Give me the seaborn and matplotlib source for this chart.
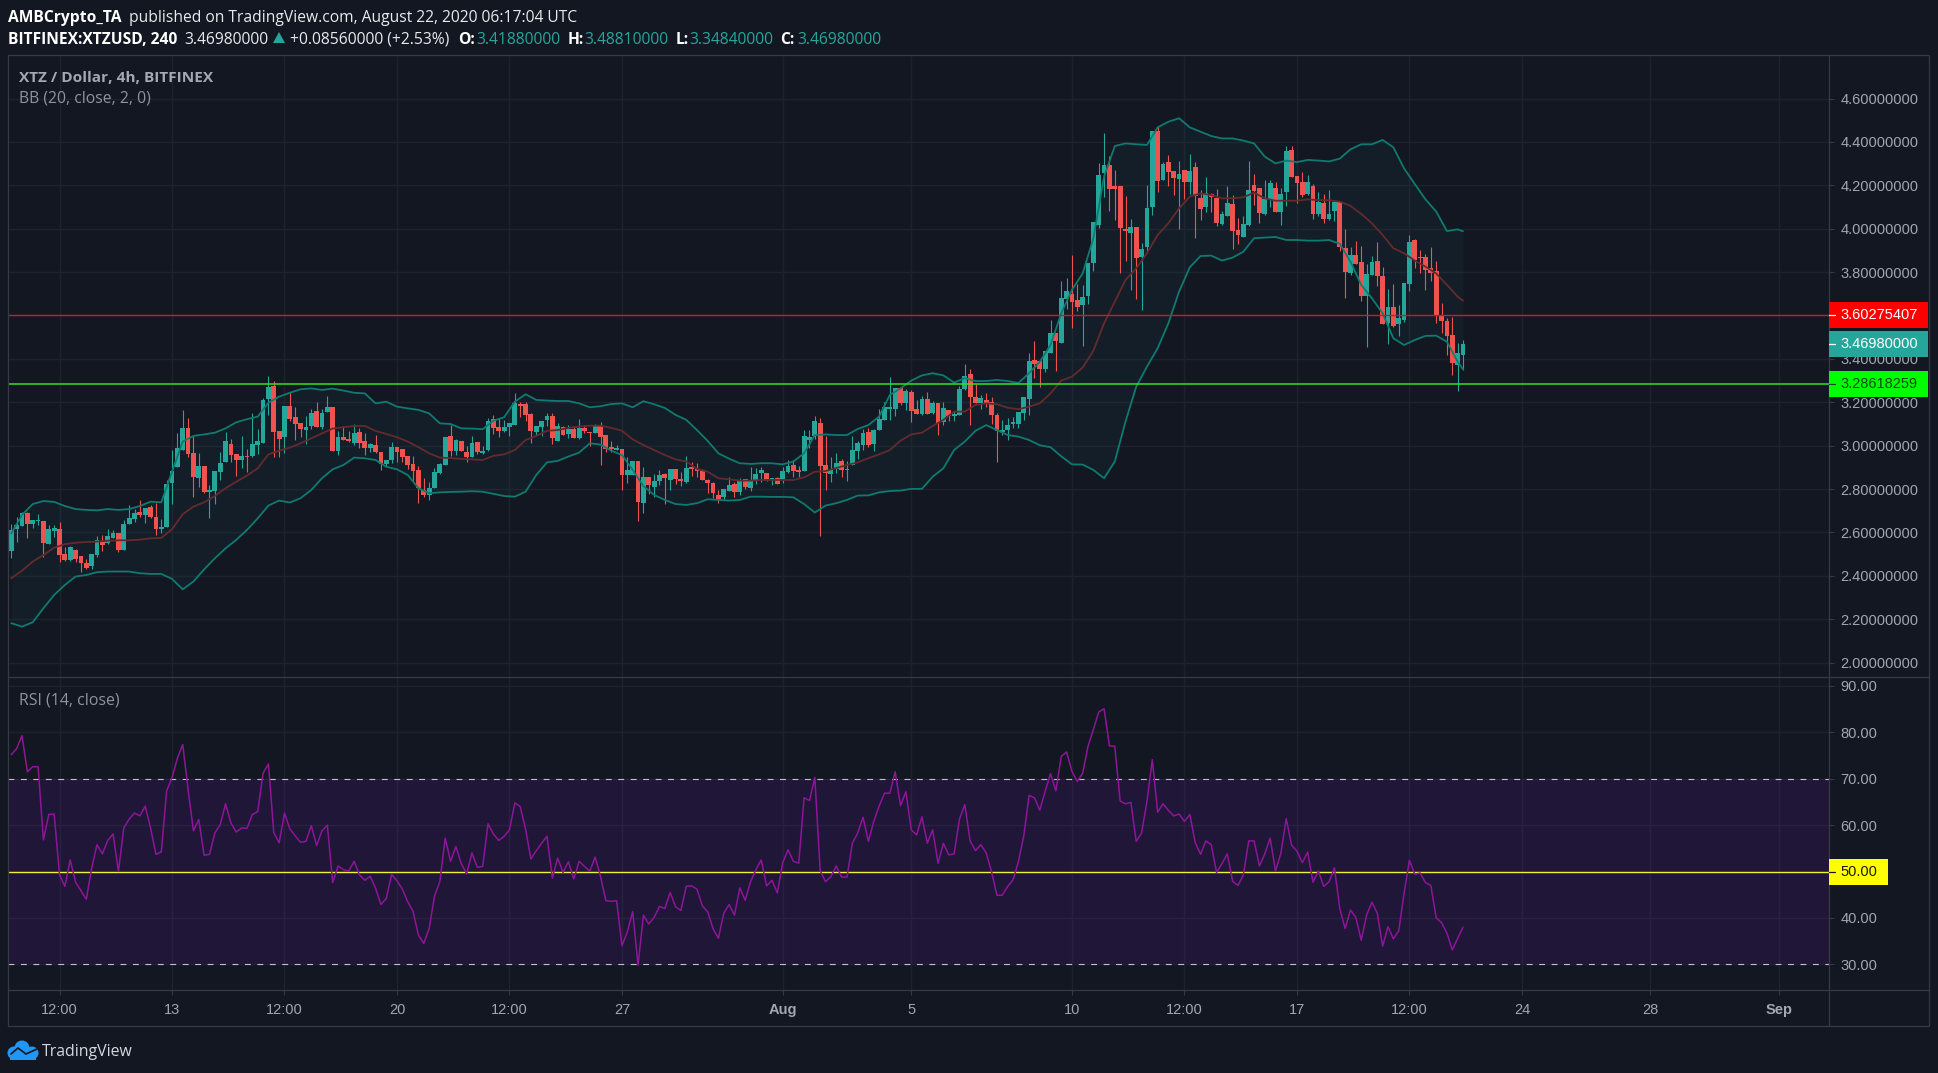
"""XTZ/USD 4h candles with Bollinger bands and RSI, TradingView dark layout."""

import matplotlib
matplotlib.use("Agg")
import matplotlib.pyplot as plt
from matplotlib.patches import Circle, Polygon, Rectangle
import numpy as np
import pandas as pd
import seaborn as sns

# ---------------------------------------------------------------------------
# Data
# ---------------------------------------------------------------------------

opens = [
    2.516, 2.616, 2.632, 2.690, 2.640, 2.653, 2.653, 2.547, 2.607, 2.616,
    2.501, 2.473, 2.520, 2.493, 2.460, 2.446, 2.496, 2.558, 2.552, 2.575,
    2.598, 2.520, 2.640, 2.662, 2.695, 2.681, 2.718, 2.672, 2.616, 2.625,
    2.828, 2.902, 2.980, 3.082, 2.966, 2.851, 2.906, 2.787, 2.791, 2.879,
    2.925, 3.008, 2.962, 2.934, 2.953, 2.953, 3.003, 3.013, 3.215, 3.275,
    3.068, 3.040, 3.183, 3.132, 3.105, 3.072, 3.091, 3.160, 3.086, 3.155,
    3.178, 2.976, 3.040, 3.031, 3.013, 3.063, 3.022, 2.990, 3.003, 2.971,
    2.916, 2.934, 2.994, 2.985, 2.953, 2.916, 2.888, 2.796, 2.773, 2.805,
    2.874, 2.911, 3.045, 2.976, 3.022, 2.971, 2.948, 3.017, 2.966, 2.980,
    3.123, 3.086, 3.068, 3.086, 3.095, 3.192, 3.192, 3.146, 3.063, 3.086,
    3.119, 3.137, 3.022, 3.086, 3.054, 3.077, 3.036, 3.082, 3.063, 3.059,
    3.091, 3.049, 2.994, 2.980, 2.985, 2.865, 2.865, 2.930, 2.736, 2.856,
    2.810, 2.837, 2.870, 2.842, 2.893, 2.847, 2.833, 2.902, 2.893, 2.888,
    2.842, 2.828, 2.773, 2.764, 2.791, 2.824, 2.787, 2.847, 2.805, 2.842,
    2.874, 2.874, 2.842, 2.851, 2.842, 2.879, 2.911, 2.888, 2.883, 3.026,
    3.045, 3.105, 2.911, 2.870, 2.893, 2.930, 2.890, 2.911, 2.976, 3.003,
    3.063, 3.008, 3.072, 3.119, 3.169, 3.169, 3.266, 3.197, 3.248, 3.169,
    3.146, 3.215, 3.151, 3.197, 3.109, 3.165, 3.137, 3.142, 3.261, 3.330,
    3.225, 3.197, 3.211, 3.201, 3.142, 3.063, 3.072, 3.100, 3.100, 3.151,
    3.215, 3.395, 3.390, 3.354, 3.427, 3.519, 3.473, 3.676, 3.699, 3.671,
    3.648, 3.690, 3.842, 4.017, 4.257, 4.294, 4.197, 4.197, 3.999, 3.980,
    4.008, 3.870, 3.916, 4.100, 4.450, 4.224, 4.307, 4.266, 4.229, 4.270,
    4.215, 4.284, 4.141, 4.100, 4.160, 4.141, 4.022, 4.058, 4.114, 3.994,
    3.962, 4.017, 4.201, 4.188, 4.068, 4.132, 4.188, 4.077, 4.169, 4.363,
    4.243, 4.215, 4.160, 4.197, 4.068, 4.118, 4.045, 4.082, 4.123, 3.911,
    3.796, 3.879, 3.847, 3.690, 3.787, 3.851, 3.782, 3.565, 3.639, 3.561,
    3.579, 3.745, 3.948, 3.870, 3.870, 3.819, 3.805, 3.598, 3.575, 3.510,
    3.372, 3.4188,
]
highs = [
    2.640, 2.670, 2.696, 2.693, 2.658, 2.685, 2.655, 2.635, 2.635, 2.647,
    2.532, 2.538, 2.523, 2.493, 2.476, 2.501, 2.584, 2.589, 2.616, 2.612,
    2.598, 2.658, 2.727, 2.708, 2.750, 2.713, 2.727, 2.736, 2.662, 2.842,
    2.980, 3.059, 3.165, 3.128, 3.045, 2.966, 2.906, 2.819, 2.883, 2.971,
    3.063, 3.031, 2.962, 3.045, 2.985, 3.151, 3.077, 3.220, 3.321, 3.298,
    3.068, 3.183, 3.243, 3.178, 3.105, 3.137, 3.169, 3.201, 3.169, 3.229,
    3.178, 3.068, 3.091, 3.068, 3.100, 3.082, 3.059, 3.013, 3.049, 2.971,
    2.934, 3.017, 2.994, 2.985, 2.953, 2.953, 2.906, 2.851, 2.833, 2.897,
    2.920, 3.040, 3.095, 3.031, 3.022, 2.999, 3.045, 3.017, 2.999, 3.128,
    3.142, 3.128, 3.119, 3.105, 3.243, 3.201, 3.201, 3.151, 3.091, 3.114,
    3.151, 3.151, 3.105, 3.091, 3.095, 3.091, 3.123, 3.095, 3.063, 3.100,
    3.109, 3.049, 3.022, 3.003, 2.985, 2.948, 2.930, 2.930, 2.902, 2.856,
    2.870, 2.888, 2.874, 2.893, 2.893, 2.879, 2.953, 2.925, 2.920, 2.893,
    2.847, 2.833, 2.796, 2.801, 2.856, 2.833, 2.851, 2.847, 2.902, 2.897,
    2.902, 2.874, 2.851, 2.856, 2.902, 2.934, 2.934, 2.906, 3.072, 3.072,
    3.137, 3.128, 3.045, 2.948, 2.966, 2.939, 2.930, 3.045, 3.022, 3.077,
    3.082, 3.077, 3.169, 3.201, 3.317, 3.266, 3.271, 3.261, 3.257, 3.211,
    3.229, 3.248, 3.206, 3.197, 3.201, 3.165, 3.160, 3.275, 3.377, 3.354,
    3.284, 3.234, 3.243, 3.225, 3.151, 3.119, 3.128, 3.132, 3.155, 3.225,
    3.427, 3.483, 3.390, 3.436, 3.579, 3.519, 3.759, 3.773, 3.879, 3.745,
    3.741, 3.842, 4.031, 4.303, 4.441, 4.335, 4.270, 4.197, 4.151, 4.045,
    4.008, 3.934, 4.201, 4.450, 4.473, 4.307, 4.340, 4.266, 4.312, 4.270,
    4.344, 4.307, 4.178, 4.238, 4.165, 4.183, 4.082, 4.197, 4.155, 4.049,
    4.058, 4.312, 4.252, 4.188, 4.224, 4.224, 4.215, 4.188, 4.381, 4.381,
    4.243, 4.261, 4.247, 4.206, 4.169, 4.160, 4.178, 4.132, 4.123, 3.999,
    3.916, 3.943, 3.920, 3.837, 3.874, 3.939, 3.824, 3.722, 3.745, 3.648,
    3.750, 3.971, 3.953, 3.902, 3.883, 3.916, 3.851, 3.658, 3.589, 3.593,
    3.473, 3.4881,
]
lows = [
    2.483, 2.558, 2.632, 2.576, 2.622, 2.635, 2.489, 2.547, 2.581, 2.466,
    2.470, 2.470, 2.464, 2.418, 2.434, 2.432, 2.489, 2.515, 2.547, 2.575,
    2.510, 2.520, 2.640, 2.647, 2.672, 2.644, 2.667, 2.589, 2.598, 2.625,
    2.731, 2.902, 2.980, 2.948, 2.764, 2.810, 2.782, 2.667, 2.731, 2.842,
    2.925, 2.925, 2.860, 2.897, 2.879, 2.948, 2.962, 3.013, 3.142, 2.948,
    2.948, 2.966, 3.114, 3.026, 3.040, 3.008, 3.077, 3.086, 3.077, 3.155,
    2.976, 2.957, 3.026, 3.017, 3.003, 2.990, 2.957, 2.971, 2.966, 2.888,
    2.902, 2.920, 2.925, 2.925, 2.893, 2.837, 2.736, 2.764, 2.750, 2.805,
    2.870, 2.911, 2.953, 2.957, 2.976, 2.925, 2.948, 2.962, 2.962, 2.976,
    3.054, 3.040, 3.063, 3.045, 3.095, 3.132, 3.114, 3.013, 3.049, 3.045,
    3.091, 3.008, 3.022, 3.049, 3.036, 3.036, 3.031, 3.059, 2.999, 3.059,
    2.911, 2.971, 2.971, 2.980, 2.796, 2.828, 2.865, 2.653, 2.690, 2.778,
    2.764, 2.819, 2.731, 2.796, 2.824, 2.814, 2.828, 2.860, 2.856, 2.842,
    2.782, 2.759, 2.736, 2.750, 2.791, 2.764, 2.773, 2.801, 2.791, 2.824,
    2.833, 2.837, 2.819, 2.824, 2.828, 2.874, 2.856, 2.856, 2.883, 2.990,
    3.031, 2.584, 2.796, 2.833, 2.874, 2.856, 2.837, 2.911, 2.939, 2.980,
    2.994, 2.976, 3.072, 3.119, 3.119, 3.137, 3.188, 3.165, 3.109, 3.146,
    3.142, 3.146, 3.146, 3.049, 3.095, 3.114, 3.114, 3.142, 3.257, 3.095,
    3.197, 3.169, 3.178, 3.100, 2.925, 3.049, 3.026, 3.082, 3.082, 3.119,
    3.142, 3.312, 3.271, 3.340, 3.427, 3.344, 3.473, 3.630, 3.542, 3.621,
    3.460, 3.653, 3.805, 4.003, 4.146, 4.082, 4.040, 3.796, 3.851, 3.718,
    3.676, 3.625, 3.897, 4.063, 4.169, 4.224, 4.197, 4.155, 3.999, 4.137,
    4.160, 3.957, 4.040, 4.077, 4.077, 4.012, 4.017, 4.058, 3.906, 3.930,
    3.962, 4.012, 4.109, 4.026, 4.063, 4.100, 4.077, 4.017, 4.105, 4.238,
    4.118, 4.146, 4.155, 4.045, 4.058, 4.026, 4.040, 4.035, 3.897, 3.681,
    3.787, 3.837, 3.667, 3.455, 3.787, 3.736, 3.561, 3.469, 3.547, 3.506,
    3.570, 3.713, 3.819, 3.796, 3.718, 3.759, 3.565, 3.519, 3.418, 3.326,
    3.252, 3.3484,
]
closes = [
    2.612, 2.635, 2.690, 2.641, 2.658, 2.656, 2.552, 2.616, 2.621, 2.496,
    2.473, 2.533, 2.478, 2.460, 2.437, 2.501, 2.564, 2.542, 2.584, 2.598,
    2.520, 2.640, 2.667, 2.690, 2.681, 2.713, 2.672, 2.616, 2.625, 2.824,
    2.883, 2.990, 3.082, 2.962, 2.856, 2.906, 2.787, 2.796, 2.883, 2.920,
    3.022, 2.957, 2.934, 2.953, 2.948, 3.008, 3.022, 3.211, 3.271, 3.063,
    3.031, 3.183, 3.123, 3.100, 3.077, 3.086, 3.151, 3.086, 3.151, 3.178,
    2.976, 3.040, 3.026, 3.022, 3.059, 3.013, 2.990, 3.008, 2.971, 2.916,
    2.934, 2.994, 2.971, 2.948, 2.911, 2.883, 2.805, 2.773, 2.805, 2.879,
    2.916, 3.040, 2.976, 3.026, 2.976, 2.948, 3.013, 2.971, 2.976, 3.114,
    3.082, 3.068, 3.086, 3.105, 3.197, 3.183, 3.142, 3.068, 3.091, 3.114,
    3.137, 3.036, 3.091, 3.049, 3.077, 3.036, 3.082, 3.068, 3.060, 3.091,
    3.040, 2.985, 2.985, 2.990, 2.865, 2.888, 2.930, 2.741, 2.856, 2.819,
    2.837, 2.865, 2.851, 2.893, 2.847, 2.837, 2.897, 2.893, 2.883, 2.842,
    2.828, 2.782, 2.755, 2.801, 2.819, 2.787, 2.842, 2.810, 2.842, 2.870,
    2.888, 2.842, 2.851, 2.824, 2.883, 2.906, 2.883, 2.879, 3.045, 3.040,
    3.114, 2.906, 2.874, 2.888, 2.920, 2.888, 2.893, 2.980, 3.013, 3.059,
    3.003, 3.072, 3.123, 3.178, 3.178, 3.266, 3.195, 3.252, 3.160, 3.146,
    3.215, 3.146, 3.197, 3.105, 3.174, 3.137, 3.146, 3.261, 3.321, 3.225,
    3.197, 3.220, 3.197, 3.142, 3.068, 3.072, 3.095, 3.109, 3.155, 3.225,
    3.390, 3.377, 3.354, 3.436, 3.519, 3.483, 3.681, 3.713, 3.662, 3.639,
    3.685, 3.842, 4.031, 4.247, 4.294, 4.183, 4.183, 4.003, 3.989, 4.008,
    3.865, 3.906, 4.095, 4.450, 4.220, 4.298, 4.261, 4.234, 4.252, 4.215,
    4.266, 4.151, 4.091, 4.165, 4.146, 4.026, 4.068, 4.118, 3.989, 3.971,
    4.022, 4.178, 4.174, 4.072, 4.137, 4.211, 4.077, 4.160, 4.358, 4.238,
    4.211, 4.155, 4.215, 4.068, 4.123, 4.045, 4.068, 4.123, 3.916, 3.800,
    3.879, 3.837, 3.690, 3.791, 3.847, 3.782, 3.561, 3.639, 3.552, 3.589,
    3.750, 3.939, 3.856, 3.867, 3.810, 3.796, 3.602, 3.575, 3.506, 3.381,
    3.427, 3.4698,
]

# bands read at every 2nd candle, plus the last one
bb_bars = list(range(0, 271, 2)) + [271]
bb_upper = [
    2.596, 2.681, 2.731, 2.745, 2.741, 2.722, 2.708, 2.704, 2.702, 2.708,
    2.704, 2.708, 2.722, 2.742, 2.739, 2.880, 3.019, 3.045, 3.052, 3.060,
    3.080, 3.108, 3.122, 3.134, 3.198, 3.226, 3.244, 3.260, 3.264, 3.257,
    3.263, 3.254, 3.244, 3.241, 3.195, 3.203, 3.180, 3.172, 3.165, 3.149,
    3.103, 3.100, 3.080, 3.079, 3.076, 3.115, 3.131, 3.203, 3.237, 3.211,
    3.208, 3.206, 3.206, 3.195, 3.177, 3.182, 3.192, 3.195, 3.177, 3.205,
    3.191, 3.174, 3.142, 3.119, 3.072, 3.022, 2.965, 2.940, 2.919, 2.916,
    2.919, 2.919, 2.914, 2.927, 2.965, 3.049, 3.052, 3.049, 3.049, 3.077,
    3.095, 3.134, 3.234, 3.264, 3.300, 3.324, 3.334, 3.324, 3.291, 3.311,
    3.298, 3.298, 3.303, 3.298, 3.289, 3.334, 3.387, 3.464, 3.610, 3.718,
    3.794, 3.956, 4.240, 4.381, 4.393, 4.389, 4.386, 4.467, 4.493, 4.509,
    4.467, 4.447, 4.427, 4.416, 4.416, 4.406, 4.393, 4.332, 4.301, 4.314,
    4.307, 4.317, 4.314, 4.310, 4.323, 4.366, 4.389, 4.389, 4.409, 4.375,
    4.278, 4.206, 4.135, 4.079, 3.989, 3.997, 3.988,
]
bb_mid = [
    2.389, 2.424, 2.466, 2.496, 2.530, 2.546, 2.553, 2.556, 2.558, 2.562,
    2.564, 2.564, 2.567, 2.573, 2.575, 2.615, 2.684, 2.719, 2.739, 2.768,
    2.804, 2.834, 2.862, 2.896, 2.960, 2.977, 2.991, 3.011, 3.034, 3.057,
    3.079, 3.085, 3.091, 3.091, 3.068, 3.054, 3.039, 3.019, 2.993, 2.965,
    2.945, 2.943, 2.939, 2.937, 2.934, 2.953, 2.960, 2.980, 3.026, 3.045,
    3.069, 3.072, 3.082, 3.088, 3.092, 3.092, 3.082, 3.069, 3.029, 3.003,
    2.980, 2.957, 2.937, 2.927, 2.893, 2.880, 2.850, 2.845, 2.839, 2.839,
    2.842, 2.842, 2.842, 2.842, 2.854, 2.880, 2.883, 2.897, 2.911, 2.923,
    2.942, 2.960, 2.980, 3.023, 3.052, 3.060, 3.091, 3.119, 3.157, 3.157,
    3.188, 3.195, 3.191, 3.175, 3.168, 3.180, 3.195, 3.241, 3.300, 3.318,
    3.360, 3.438, 3.564, 3.664, 3.764, 3.817, 3.887, 3.971, 4.025, 4.094,
    4.148, 4.163, 4.155, 4.140, 4.140, 4.145, 4.166, 4.140, 4.129, 4.129,
    4.129, 4.135, 4.132, 4.131, 4.125, 4.105, 4.068, 4.025, 3.971, 3.910,
    3.887, 3.853, 3.825, 3.794, 3.741, 3.687, 3.668,
]
bb_lower = [
    2.182, 2.166, 2.186, 2.251, 2.312, 2.358, 2.397, 2.404, 2.417, 2.420,
    2.420, 2.420, 2.412, 2.409, 2.409, 2.386, 2.338, 2.374, 2.430, 2.481,
    2.527, 2.566, 2.612, 2.665, 2.724, 2.747, 2.738, 2.758, 2.796, 2.850,
    2.891, 2.911, 2.945, 2.942, 2.934, 2.903, 2.891, 2.865, 2.804, 2.781,
    2.785, 2.787, 2.788, 2.790, 2.788, 2.778, 2.768, 2.765, 2.788, 2.865,
    2.923, 2.930, 2.950, 2.968, 3.011, 3.005, 2.977, 2.957, 2.888, 2.814,
    2.773, 2.750, 2.731, 2.727, 2.735, 2.753, 2.750, 2.747, 2.750, 2.765,
    2.765, 2.764, 2.764, 2.762, 2.731, 2.692, 2.724, 2.735, 2.750, 2.770,
    2.771, 2.785, 2.791, 2.793, 2.801, 2.801, 2.857, 2.896, 2.980, 3.019,
    3.069, 3.095, 3.072, 3.049, 3.042, 3.026, 3.002, 2.993, 2.951, 2.914,
    2.913, 2.888, 2.850, 2.927, 3.111, 3.272, 3.364, 3.449, 3.564, 3.710,
    3.822, 3.874, 3.876, 3.853, 3.867, 3.894, 3.956, 3.959, 3.962, 3.948,
    3.948, 3.945, 3.945, 3.948, 3.930, 3.848, 3.741, 3.679, 3.610, 3.495,
    3.464, 3.487, 3.506, 3.507, 3.479, 3.387, 3.352,
]

rsi = [
    75.2, 76.5, 79.3, 71.5, 72.6, 72.6, 56.8, 62.3, 62.4, 49.3,
    46.8, 52.5, 47.7, 45.9, 44.0, 50.7, 55.8, 53.8, 56.7, 58.1,
    50.0, 59.4, 61.3, 62.6, 62.0, 64.1, 59.4, 53.7, 54.2, 67.4,
    70.2, 74.4, 77.4, 67.7, 58.8, 61.2, 53.5, 53.7, 58.3, 60.1,
    64.6, 60.5, 58.5, 59.4, 59.3, 62.3, 62.9, 71.2, 73.2, 58.4,
    56.2, 62.6, 59.2, 57.7, 56.3, 56.5, 59.9, 55.6, 58.8, 60.0,
    47.6, 51.2, 50.4, 50.1, 52.2, 49.3, 48.1, 49.0, 46.4, 42.9,
    44.2, 49.4, 48.0, 46.2, 43.5, 41.4, 36.3, 34.5, 37.7, 44.7,
    47.8, 57.2, 52.2, 55.4, 51.7, 49.5, 54.0, 50.9, 51.1, 60.3,
    58.1, 56.7, 57.6, 59.0, 64.8, 64.0, 59.2, 52.7, 54.5, 56.1,
    57.6, 48.6, 52.9, 49.8, 52.1, 48.4, 52.2, 51.1, 50.1, 53.1,
    48.9, 43.7, 43.6, 43.7, 34.0, 37.0, 41.4, 29.8, 40.6, 38.7,
    40.1, 42.5, 42.0, 45.5, 42.4, 41.6, 46.8, 46.9, 46.2, 42.6,
    41.3, 37.7, 35.6, 41.0, 42.9, 40.6, 46.5, 43.8, 47.8, 50.4,
    52.5, 46.9, 48.1, 45.4, 51.9, 54.7, 52.2, 51.8, 65.9, 65.3,
    70.3, 50.2, 47.8, 48.9, 51.2, 48.8, 48.8, 56.1, 58.3, 61.7,
    56.5, 60.8, 64.1, 66.9, 66.9, 71.5, 64.2, 67.2, 59.0, 57.9,
    61.8, 56.1, 59.0, 51.8, 56.1, 53.6, 53.8, 61.3, 64.4, 56.6,
    54.5, 55.8, 54.0, 49.9, 44.9, 44.9, 46.8, 48.2, 52.1, 57.6,
    66.4, 65.9, 63.2, 67.3, 71.1, 67.4, 74.8, 75.8, 71.6, 69.4,
    71.2, 77.0, 80.6, 84.4, 85.1, 77.1, 77.0, 65.2, 64.6, 64.9,
    56.5, 58.3, 65.1, 74.1, 62.8, 64.6, 63.2, 62.0, 62.4, 60.8,
    62.3, 56.3, 53.7, 56.6, 55.8, 49.8, 51.7, 53.8, 47.9, 47.0,
    49.3, 56.6, 56.6, 51.2, 53.8, 57.2, 50.1, 53.9, 61.4, 55.7,
    54.4, 51.9, 54.2, 47.7, 50.1, 46.8, 47.8, 50.8, 42.0, 37.7,
    41.7, 40.1, 35.2, 40.6, 43.4, 41.0, 33.9, 38.1, 35.5, 37.2,
    45.3, 52.4, 49.4, 49.7, 47.6, 47.0, 40.0, 39.0, 36.7, 33.1,
    35.6, 38.0,
]

resistance = 3.60275407
support = 3.28618259
last_close = 3.46980000
price_ticks = [2.0, 2.2, 2.4, 2.6, 2.8, 3.0, 3.2, 3.4, 3.6, 3.8, 4.0, 4.2, 4.4, 4.6]
rsi_ticks = [30, 40, 50, 60, 70, 80, 90]
time_ticks = [
    ("2020-07-09 12:00", "12:00"), ("2020-07-13", "13"),
    ("2020-07-16 12:00", "12:00"), ("2020-07-20", "20"),
    ("2020-07-23 12:00", "12:00"), ("2020-07-27", "27"),
    ("2020-08-01", "Aug"), ("2020-08-05", "5"), ("2020-08-10", "10"),
    ("2020-08-13 12:00", "12:00"), ("2020-08-17", "17"),
    ("2020-08-20 12:00", "12:00"), ("2020-08-24", "24"),
    ("2020-08-28", "28"), ("2020-09-01", "Sep"),
]

# ---------------------------------------------------------------------------
# Style
# ---------------------------------------------------------------------------

BG = "#131722"
GRID = "#1e222d"
FRAME = "#363a45"
UP = "#26a69a"
DOWN = "#ef5350"
TICK_TEXT = "#a3a6af"
W, H = 1938, 1073
PANE_LEFT, PANE_RIGHT, OUTER_RIGHT = 8, 1829, 1929
PANE_TOP, PANE_SPLIT, PANE_BOTTOM, AXIS_BOTTOM = 55, 677, 990, 1026

sns.set_theme(style="dark", rc={"axes.facecolor": BG, "figure.facecolor": BG})
plt.rcParams["font.family"] = ["Liberation Sans", "DejaVu Sans"]

fig = plt.figure(figsize=(W / 100, H / 100), dpi=100)


def pane(top, bottom):
    return fig.add_axes([
        PANE_LEFT / W, 1 - bottom / H,
        (PANE_RIGHT - PANE_LEFT) / W, (bottom - top) / H,
    ])


ax = pane(PANE_TOP, PANE_SPLIT)
ax_rsi = pane(PANE_SPLIT, PANE_BOTTOM)

# ---------------------------------------------------------------------------
# Candles and bands
# ---------------------------------------------------------------------------

candles = pd.DataFrame({"open": opens, "high": highs, "low": lows, "close": closes, "rsi": rsi})
candles["time"] = pd.date_range("2020-07-08", periods=len(candles), freq="4h")
colors = np.where(candles["close"] >= candles["open"], UP, DOWN)

bands = pd.DataFrame({"upper": bb_upper, "mid": bb_mid, "lower": bb_lower})
bands["time"] = candles["time"].iloc[bb_bars].values

ax.fill_between(bands["time"], bands["lower"], bands["upper"], color=UP, alpha=0.05, lw=0, zorder=1)
ax.vlines(candles["time"], candles["low"], candles["high"], colors=colors, lw=0.8, zorder=1.5)
ax.bar(
    candles["time"],
    (candles["close"] - candles["open"]).abs().clip(lower=0.002),
    bottom=candles[["open", "close"]].min(axis=1),
    width=3.6 / 24,
    color=colors,
    linewidth=0,
    zorder=1.6,
)
sns.lineplot(data=bands, x="time", y="upper", ax=ax, color="#0f7a70", lw=1.3, zorder=3)
sns.lineplot(data=bands, x="time", y="lower", ax=ax, color="#0f7a70", lw=1.3, zorder=3)
sns.lineplot(data=bands, x="time", y="mid", ax=ax, color="#652a2c", lw=1.3, zorder=3)
ax.axhline(resistance, color="#c41f1f", lw=1.0, zorder=4)
ax.axhline(support, color="#35e01f", lw=1.1, zorder=4)

# ---------------------------------------------------------------------------
# RSI
# ---------------------------------------------------------------------------

ax_rsi.axhspan(30, 70, color="#9915ff", alpha=0.1, lw=0, zorder=1)
ax_rsi.axhline(70, color="#c5c1cc", lw=0.8, ls=(0, (5.3, 5.9)), zorder=2)
ax_rsi.axhline(30, color="#c5c1cc", lw=0.8, ls=(0, (5.3, 5.9)), zorder=2)
ax_rsi.axhline(50, color="#f0f03c", lw=1.0, zorder=2)
sns.lineplot(data=candles, x="time", y="rsi", ax=ax_rsi, color="#8e1599", lw=1.1, zorder=3)

# ---------------------------------------------------------------------------
# Axes
# ---------------------------------------------------------------------------

start = candles["time"].iloc[0]
left = start - pd.Timedelta(hours=2.46)
right = start + pd.Timedelta(hours=1357.3)
ticks = [pd.Timestamp(t) for t, _ in time_ticks]

for a in (ax, ax_rsi):
    a.set_xlim(left, right)
    a.set_xticks(ticks)
    a.set_xlabel("")
    a.set_ylabel("")
    a.set_facecolor(BG)
    a.set_axisbelow(True)
    a.grid(True, color=GRID, lw=1.0)
    a.yaxis.tick_right()
    a.tick_params(
        axis="y", right=True, length=3.6, width=0.8, color=FRAME, pad=4.6,
        labelsize=10.5, labelcolor=TICK_TEXT,
    )
    for s in a.spines.values():
        s.set_visible(False)

ax.set_ylim(1.934, 4.8005)
ax.set_yticks(price_ticks)
ax.set_yticklabels([f"{v:.8f}" for v in price_ticks])
ax.tick_params(axis="x", bottom=False, labelbottom=False)

ax_rsi.set_ylim(24.46, 91.94)
ax_rsi.set_yticks(rsi_ticks)
ax_rsi.set_yticklabels([f"{v:.2f}" for v in rsi_ticks])
ax_rsi.set_xticklabels([label for _, label in time_ticks])
ax_rsi.tick_params(
    axis="x", bottom=True, length=3.6, width=0.8, color=FRAME, pad=5.5,
    labelsize=10.5, labelcolor=TICK_TEXT,
)
for label in ax_rsi.get_xticklabels():
    if label.get_text() in ("Aug", "Sep"):
        label.set_fontweight("bold")

# ---------------------------------------------------------------------------
# Page furniture, drawn in pixel coordinates on a transparent overlay
# ---------------------------------------------------------------------------

ov = fig.add_axes([0, 0, 1, 1], zorder=10)
ov.set_xlim(0, W)
ov.set_ylim(H, 0)
ov.axis("off")

# frame
ov.add_patch(Rectangle(
    (PANE_LEFT, PANE_TOP), OUTER_RIGHT - PANE_LEFT, AXIS_BOTTOM - PANE_TOP,
    fill=False, ec=FRAME, lw=0.9,
))
ov.plot([PANE_RIGHT, PANE_RIGHT], [PANE_TOP, AXIS_BOTTOM], color=FRAME, lw=0.9)
ov.plot([PANE_LEFT, OUTER_RIGHT], [PANE_SPLIT, PANE_SPLIT], color=FRAME, lw=0.9)
ov.plot([PANE_LEFT, OUTER_RIGHT], [PANE_BOTTOM, PANE_BOTTOM], color=FRAME, lw=0.9)


def to_px(a, value):
    """Pixel row of a data value on the right-hand scale of a pane."""
    return H - a.transData.transform((0, value))[1]


def badge(a, value, text, face, text_color, width):
    y = to_px(a, value)
    ov.add_patch(Rectangle((PANE_RIGHT, y - 13), width, 26, fc=face, ec="none", zorder=5))
    ov.plot([PANE_RIGHT, PANE_RIGHT + 6], [y, y], color=text_color, lw=0.9, zorder=6)
    ov.text(
        PANE_RIGHT + 11.6, y, text, color=text_color, fontsize=10.5,
        va="center", ha="left", zorder=6,
    )


badge(ax, resistance, f"{resistance:.8f}", "#ff0000", "#ffffff", 99)
badge(ax, last_close, f"{last_close:.8f}", UP, "#ffffff", 99)
badge(ax, support, f"{support:.8f}", "#00ff00", "#0c4a12", 99)
badge(ax_rsi, 50, "50.00", "#ffff00", "#1b1b10", 59)

# header
HEAD = ["Open Sans", "DejaVu Sans"]
HEAD_SIZE = 11.25
WHITE = "#e8e9ec"


def head(x, y, text, color=WHITE, weight="normal"):
    ov.text(x, y, text, color=color, fontsize=HEAD_SIZE, family=HEAD, weight=weight, va="center", ha="left")


head(8, 17.5, "AMBCrypto_TA", "#ffffff", "bold")
head(129, 17.5, "published on TradingView.com, August 22, 2020 06:17:04 UTC")
head(8, 39.5, "BITFINEX:XTZUSD, 240", "#ffffff", "bold")
head(184, 39.5, "3.46980000")
ov.add_patch(Polygon([(273, 43), (285, 43), (279, 32)], fc=UP, ec="none"))
head(290, 39.5, "+0.08560000 (+2.53%)")
head(458.5, 39.5, "O:", "#ffffff", "bold")
head(476, 39.5, "3.41880000", UP)
head(567.5, 39.5, "H:", "#ffffff", "bold")
head(584, 39.5, "3.48810000", UP)
head(676, 39.5, "L:", "#ffffff", "bold")
head(689, 39.5, "3.34840000", UP)
head(780, 39.5, "C:", "#ffffff", "bold")
head(797, 39.5, "3.46980000", UP)

# legends inside the panes
ov.text(19, 78, "XTZ / Dollar, 4h, BITFINEX", color="#a5a8b3", fontsize=11.1, family=HEAD, weight="bold", va="center")
ov.text(19, 98.5, "BB (20, close, 2, 0)", color="#90939e", fontsize=11.3, family=HEAD, va="center")
ov.text(19, 700.5, "RSI (14, close)", color="#90939e", fontsize=11.4, family=HEAD, va="center")

# logo
for cx, cy, r in [(14, 1053, 6.5), (22, 1048, 7.5), (32, 1053, 6.5)]:
    ov.add_patch(Circle((cx, cy), r, fc="#2196f3", ec="none"))
ov.add_patch(Rectangle((10, 1051), 26, 9, fc="#2196f3", ec="none"))
ov.plot([11, 18, 26, 37], [1054, 1048, 1054, 1049], color=BG, lw=1.2)
ov.text(42, 1051.5, "TradingView", color="#d6d8de", fontsize=11.4, family=HEAD, va="center")

fig.savefig("out.png", dpi=100, facecolor=BG)
